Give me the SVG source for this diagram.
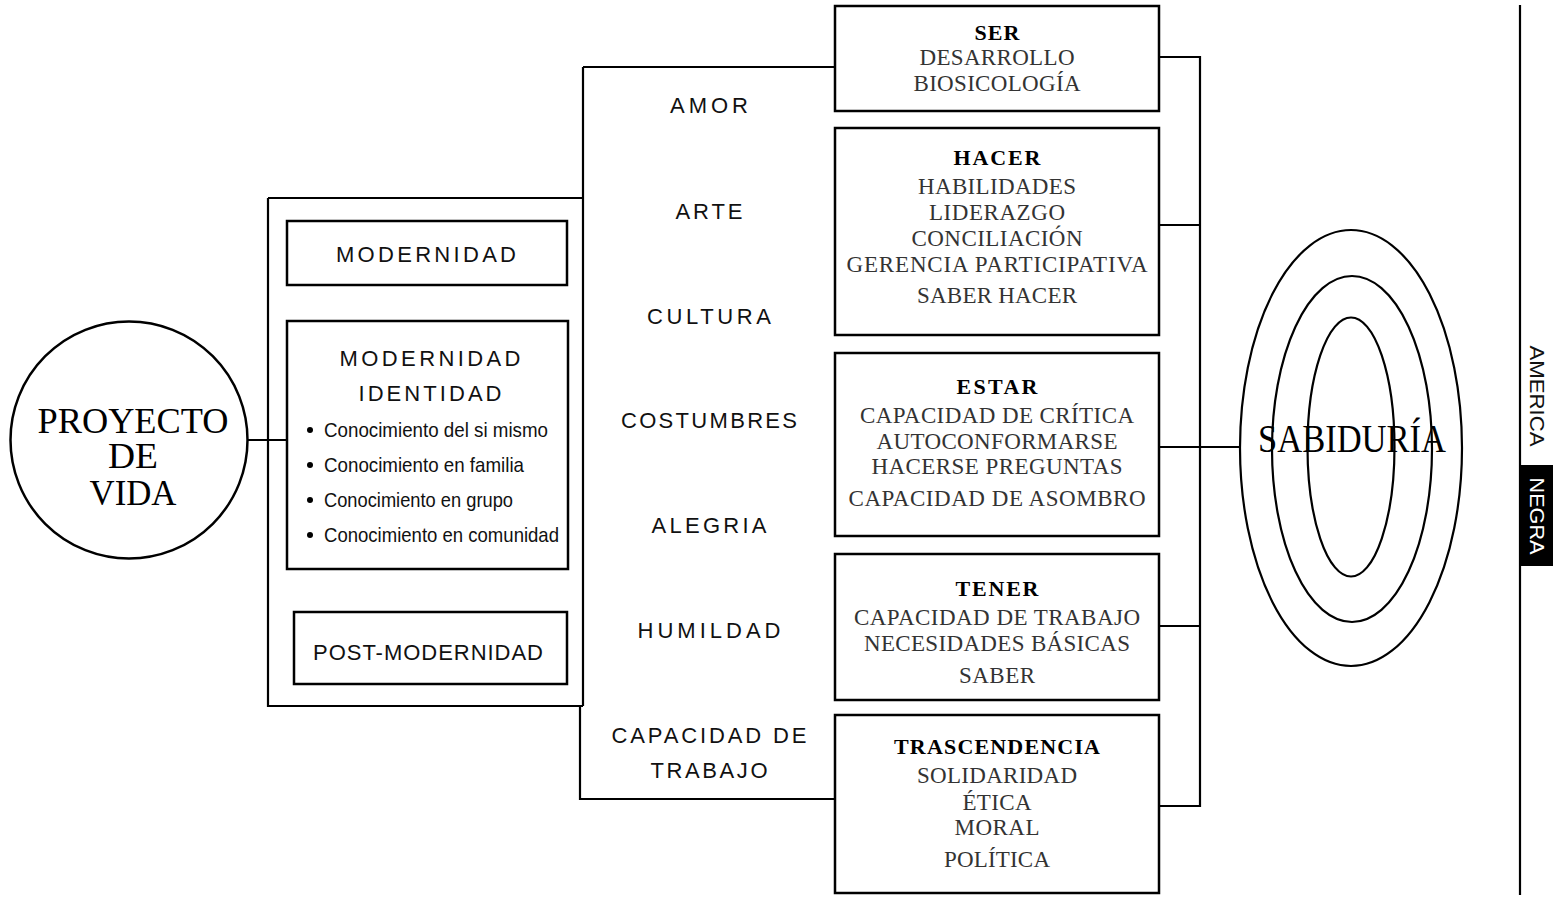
<svg xmlns="http://www.w3.org/2000/svg" width="1559" height="897" viewBox="0 0 1559 897">
<style>
.ln{fill:none;stroke:#000;stroke-width:2.2}
.bx{fill:#fff;stroke:#000;stroke-width:2.5}
.sans{font-family:"Liberation Sans",Arial,sans-serif;font-size:22px;fill:#111;text-anchor:middle}
.nar{font-family:"Liberation Sans Narrow","Liberation Sans",Arial,sans-serif;font-size:21px;fill:#111}
.ser{font-family:"Liberation Serif","Times New Roman",serif;font-size:23px;fill:#333;text-anchor:middle}
.tit{font-family:"Liberation Serif","Times New Roman",serif;font-size:22px;font-weight:bold;fill:#000;text-anchor:middle}
.big{font-family:"Liberation Serif","Times New Roman",serif;font-size:35px;fill:#000;text-anchor:middle}
</style>
<rect width="1559" height="897" fill="#fff"/>
<g id="connectors">
<path class="ln" d="M248,440 H287"/>
<path class="ln" d="M268,198 H583 M268,198 V706 H583"/>
<path class="ln" d="M583,67 V706 M580,706 V800"/>
<path class="ln" d="M583,67 H835 M580,799 H835"/>
<path class="ln" d="M1159,57 H1200 V806 H1159 M1159,225 H1200 M1159,447 H1240 M1159,626 H1200"/>
<path class="ln" d="M1520,5 V895"/>
</g>
<g id="proyecto">
<circle cx="129" cy="440" r="118.5" class="bx"/>
<text class="big" x="133" y="433" textLength="191" lengthAdjust="spacingAndGlyphs">PROYECTO</text>
<text class="big" x="133" y="468" textLength="50" lengthAdjust="spacingAndGlyphs">DE</text>
<text class="big" x="133" y="505" textLength="87" lengthAdjust="spacingAndGlyphs">VIDA</text>
</g>
<g id="modernidad">
<rect x="287" y="221" width="280" height="64" class="bx"/>
<text class="sans" x="426" y="262" textLength="180" lengthAdjust="spacing">MODERNIDAD</text>
</g>
<g id="identidad">
<rect x="287" y="321" width="281" height="248" class="bx"/>
<text class="sans" x="430" y="366" textLength="181" lengthAdjust="spacing">MODERNIDAD</text>
<text class="sans" x="430" y="401" textLength="143" lengthAdjust="spacing">IDENTIDAD</text>
<circle cx="310" cy="430" r="3"/>
<circle cx="310" cy="465" r="3"/>
<circle cx="310" cy="500" r="3"/>
<circle cx="310" cy="535" r="3"/>
<text class="nar" x="324" y="437" textLength="224" lengthAdjust="spacingAndGlyphs">Conocimiento del si mismo</text>
<text class="nar" x="324" y="472" textLength="200" lengthAdjust="spacingAndGlyphs">Conocimiento en familia</text>
<text class="nar" x="324" y="507" textLength="189" lengthAdjust="spacingAndGlyphs">Conocimiento en grupo</text>
<text class="nar" x="324" y="542" textLength="235" lengthAdjust="spacingAndGlyphs">Conocimiento en comunidad</text>
</g>
<g id="postmodernidad">
<rect x="294" y="612" width="273" height="72" class="bx"/>
<text class="sans" x="428" y="660" textLength="230" lengthAdjust="spacing">POST-MODERNIDAD</text>
</g>
<g id="valores">
<text class="sans" x="709" y="113" textLength="78" lengthAdjust="spacing">AMOR</text>
<text class="sans" x="709" y="219" textLength="67" lengthAdjust="spacing">ARTE</text>
<text class="sans" x="709" y="324" textLength="124" lengthAdjust="spacing">CULTURA</text>
<text class="sans" x="709" y="428" textLength="176" lengthAdjust="spacing">COSTUMBRES</text>
<text class="sans" x="709" y="533" textLength="115" lengthAdjust="spacing">ALEGRIA</text>
<text class="sans" x="709" y="638" textLength="143" lengthAdjust="spacing">HUMILDAD</text>
<text class="sans" x="709" y="743" textLength="195" lengthAdjust="spacing">CAPACIDAD  DE</text>
<text class="sans" x="709" y="778" textLength="117" lengthAdjust="spacing">TRABAJO</text>
</g>
<g id="ser">
<rect x="835" y="6" width="324" height="105" class="bx"/>
<text class="tit" x="997" y="40" textLength="45" lengthAdjust="spacing">SER</text>
<text class="ser" x="997" y="65" textLength="155" lengthAdjust="spacing">DESARROLLO</text>
<text class="ser" x="997" y="91" textLength="167" lengthAdjust="spacing">BIOSICOLOGÍA</text>
</g>
<g id="hacer">
<rect x="835" y="128" width="324" height="207" class="bx"/>
<text class="tit" x="997" y="165" textLength="87" lengthAdjust="spacing">HACER</text>
<text class="ser" x="997" y="194" textLength="158" lengthAdjust="spacing">HABILIDADES</text>
<text class="ser" x="997" y="220" textLength="136" lengthAdjust="spacing">LIDERAZGO</text>
<text class="ser" x="997" y="246" textLength="171" lengthAdjust="spacing">CONCILIACIÓN</text>
<text class="ser" x="997" y="272" textLength="301" lengthAdjust="spacing">GERENCIA  PARTICIPATIVA</text>
<text class="ser" x="997" y="303" textLength="160" lengthAdjust="spacing">SABER  HACER</text>
</g>
<g id="estar">
<rect x="835" y="353" width="324" height="183" class="bx"/>
<text class="tit" x="997" y="394" textLength="81" lengthAdjust="spacing">ESTAR</text>
<text class="ser" x="997" y="423" textLength="274" lengthAdjust="spacing">CAPACIDAD  DE  CRÍTICA</text>
<text class="ser" x="997" y="449" textLength="241" lengthAdjust="spacing">AUTOCONFORMARSE</text>
<text class="ser" x="997" y="474" textLength="251" lengthAdjust="spacing">HACERSE  PREGUNTAS</text>
<text class="ser" x="997" y="506" textLength="297" lengthAdjust="spacing">CAPACIDAD  DE  ASOMBRO</text>
</g>
<g id="tener">
<rect x="835" y="554" width="324" height="146" class="bx"/>
<text class="tit" x="997" y="596" textLength="83" lengthAdjust="spacing">TENER</text>
<text class="ser" x="997" y="625" textLength="286" lengthAdjust="spacing">CAPACIDAD  DE  TRABAJO</text>
<text class="ser" x="997" y="651" textLength="266" lengthAdjust="spacing">NECESIDADES  BÁSICAS</text>
<text class="ser" x="997" y="683" textLength="76" lengthAdjust="spacing">SABER</text>
</g>
<g id="trascendencia">
<rect x="835" y="715" width="324" height="178" class="bx"/>
<text class="tit" x="997" y="754" textLength="206" lengthAdjust="spacing">TRASCENDENCIA</text>
<text class="ser" x="997" y="783" textLength="160" lengthAdjust="spacing">SOLIDARIDAD</text>
<text class="ser" x="997" y="810" textLength="69" lengthAdjust="spacing">ÉTICA</text>
<text class="ser" x="997" y="835" textLength="85" lengthAdjust="spacing">MORAL</text>
<text class="ser" x="997" y="867" textLength="106" lengthAdjust="spacing">POLÍTICA</text>
</g>
<g id="sabiduria">
<ellipse cx="1351" cy="448" rx="111" ry="218" class="ln"/>
<ellipse cx="1352" cy="449" rx="80" ry="173" class="ln"/>
<ellipse cx="1351" cy="447" rx="43.5" ry="129.5" class="ln"/>
<text class="big" x="1352" y="452" style="font-size:40px" textLength="188" lengthAdjust="spacingAndGlyphs">SABIDURÍA</text>
</g>
<g id="america-negra">
<text class="sans" transform="translate(1530,396) rotate(90)" x="0" y="0" style="font-size:21px" textLength="101" lengthAdjust="spacingAndGlyphs">AMERICA</text>
<rect x="1521" y="465" width="32" height="101" fill="#000"/>
<text class="sans" transform="translate(1530,516) rotate(90)" x="0" y="0" style="font-size:21px;fill:#fff" textLength="77" lengthAdjust="spacingAndGlyphs">NEGRA</text>
</g>
</svg>
